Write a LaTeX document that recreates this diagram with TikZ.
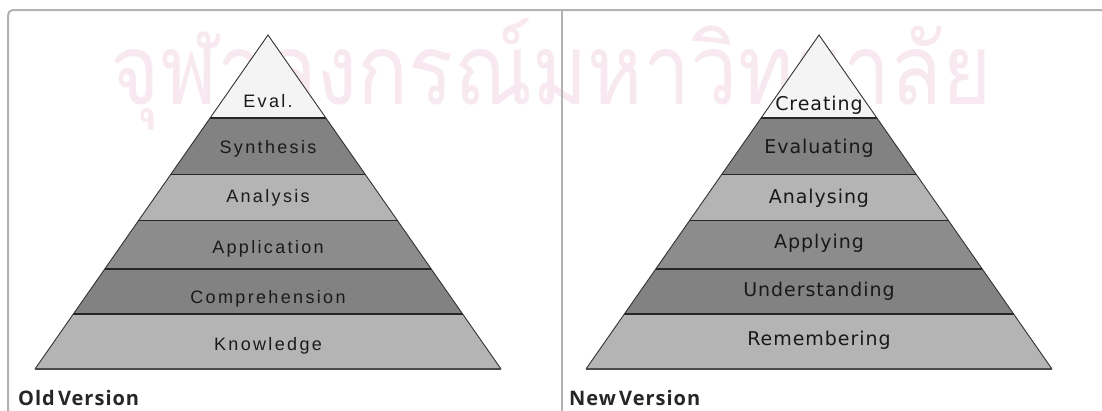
\documentclass[tikz,border=0pt]{standalone}
\usepackage{fontspec}
\newfontfamily\pyrL[LetterSpace=13]{Liberation Sans}
\newfontfamily\pyrR[LetterSpace=5]{DejaVu Sans}
\newfontfamily\capfont[LetterSpace=5]{Open Sans}
\newfontfamily\thaifont[Script=Thai]{Loma}
\definecolor{bandW}{HTML}{F4F4F4}
\definecolor{bandD}{HTML}{828282}
\definecolor{bandM}{HTML}{8C8C8C}
\definecolor{bandL}{HTML}{B4B4B4}
\definecolor{framegray}{HTML}{B2B2B2}
\definecolor{wmpink}{HTML}{F8E8F0}
\definecolor{inkL}{HTML}{1A1A1A}
\tikzset{
  frameline/.style={draw=framegray, line width=2pt},
  sepline/.style={draw=black!85, line width=1.4pt},
  edgeline/.style={draw=black!80, line width=0.9pt, line join=miter},
  baseline/.style={draw=black!70, line width=2pt},
  labL/.style={font=\pyrL\fontsize{18}{20}\selectfont, text=inkL, anchor=base, inner sep=0pt},
  labR/.style={font=\pyrR\fontsize{19}{21}\selectfont, text=black!90, anchor=base, inner sep=0pt},
  caption/.style={font=\capfont\bfseries\fontsize{20}{22}\selectfont, text=black!85, anchor=base west, inner sep=0pt},
  watermark/.style={font=\thaifont\fontsize{98}{110}\selectfont, text=wmpink, inner sep=0pt}
}
\begin{document}
\begin{tikzpicture}[x=1pt,y=-1pt]
\useasboundingbox (0,0) rectangle (1102,410);
\fill[white] (0,0) rectangle (1102,410);
% watermark
\node[watermark] (wm) at (551,74) {\scalebox{0.86}[1]{จุฬาลงกรณ์มหาวิทยาลัย}};
% frame
\draw[frameline, rounded corners=5pt] (8,412) -- (8,10) -- (1104,10);
\draw[frameline] (562,10) -- (562,412);
% pyramids
\foreach \cx in {268,819}{
  \begin{scope}
    \clip (\cx,35) -- ({\cx-233},369) -- ({\cx+233},369) -- cycle;
    \fill[bandW] ({\cx-240},30) rectangle ({\cx+240},118);
    \fill[bandD] ({\cx-240},118) rectangle ({\cx+240},174.5);
    \fill[bandL] ({\cx-240},174.5) rectangle ({\cx+240},220.5);
    \fill[bandM] ({\cx-240},220.5) rectangle ({\cx+240},269);
    \fill[bandD] ({\cx-240},269) rectangle ({\cx+240},314);
    \fill[bandL] ({\cx-240},314) rectangle ({\cx+240},370);
    \foreach \yy in {118,174.5,220.5,269,314}{
      \draw[sepline] ({\cx-240},\yy) -- ({\cx+240},\yy);
    }
  \end{scope}
  \draw[edgeline] ({\cx-233},369) -- (\cx,35) -- ({\cx+233},369);
  \draw[baseline] ({\cx-233},369) -- ({\cx+233},369);
}
% old version labels
\node[labL] (l1) at (268,107) {Eval.};
\node[labL] (l2) at (268,153) {Synthesis};
\node[labL] (l3) at (268,202) {Analysis};
\node[labL] (l4) at (268,253) {Application};
\node[labL] (l5) at (268,303) {Comprehension};
\node[labL] (l6) at (268,350) {Knowledge};
% new version labels
\node[labR] (r1) at (819,110) {Creating};
\node[labR] (r2) at (819,153) {Evaluating};
\node[labR] (r3) at (819,203) {Analysing};
\node[labR] (r4) at (819,248) {Applying};
\node[labR] (r5) at (819,296) {Understanding};
\node[labR] (r6) at (819,345) {Remembering};
% captions
\node[caption] (oldv) at (18,405) {Old\hspace{-3pt} Version};
\node[caption] (newv) at (569,405) {New\hspace{-3pt} Version};
\end{tikzpicture}
\end{document}
